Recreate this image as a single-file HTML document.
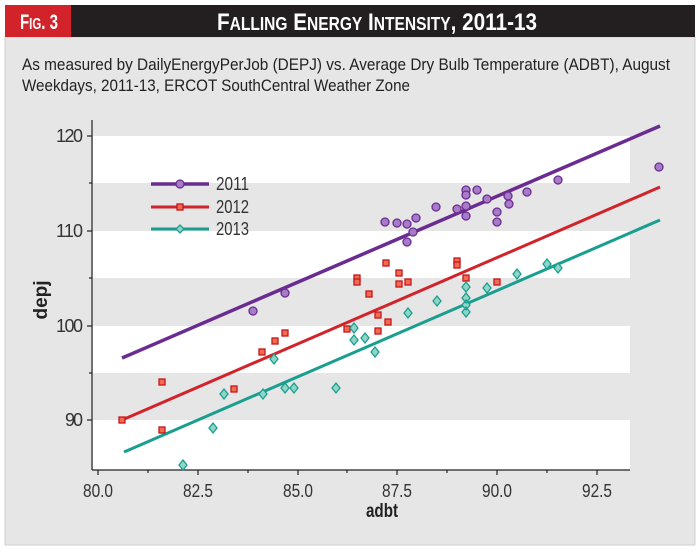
<!DOCTYPE html>
<html><head><meta charset="utf-8"><style>
body{margin:0;width:700px;height:551px;background:#fff;overflow:hidden;font-family:"Liberation Sans",sans-serif}
</style></head><body>
<svg width="700" height="551" xmlns="http://www.w3.org/2000/svg" font-family="Liberation Sans, sans-serif">
<rect x="5" y="37" width="690" height="508" fill="#e6e6e6" stroke="#cfcfcf"/>
<rect x="5" y="5" width="690" height="32" fill="#231f20"/>
<rect x="5" y="5" width="66" height="32" fill="#d2232a"/>
<text x="20" y="29" fill="#fff" font-size="21" font-weight="bold" textLength="38" lengthAdjust="spacingAndGlyphs">F<tspan font-size="16">IG</tspan>. 3</text>
<text x="217" y="30" fill="#fff" font-size="24" font-weight="bold" textLength="320" lengthAdjust="spacingAndGlyphs">F<tspan font-size="18">ALLING</tspan> E<tspan font-size="18">NERGY</tspan> I<tspan font-size="18">NTENSITY</tspan>, 2011-13</text>
<text x="22" y="70" font-size="17" fill="#222" textLength="648" lengthAdjust="spacingAndGlyphs">As measured by DailyEnergyPerJob (DEPJ) vs. Average Dry Bulb Temperature (ADBT), August</text>
<text x="22" y="91" font-size="17" fill="#222" textLength="388" lengthAdjust="spacingAndGlyphs">Weekdays, 2011-13, ERCOT SouthCentral Weather Zone</text>
<g fill="#fff">
<rect x="93" y="136" width="537" height="47"/>
<rect x="93" y="231" width="537" height="47"/>
<rect x="93" y="326" width="537" height="47"/>
<rect x="93" y="420" width="537" height="50"/>
</g>
<g stroke="#222" stroke-width="1.2">
<line x1="92" y1="120" x2="92" y2="470"/>
<line x1="92" y1="470" x2="630" y2="470"/>
<line x1="87" y1="136" x2="92" y2="136"/><line x1="89" y1="183" x2="92" y2="183"/>
<line x1="87" y1="231" x2="92" y2="231"/><line x1="89" y1="278" x2="92" y2="278"/>
<line x1="87" y1="326" x2="92" y2="326"/><line x1="89" y1="373" x2="92" y2="373"/>
<line x1="87" y1="420" x2="92" y2="420"/>
<line x1="98" y1="470" x2="98" y2="475"/><line x1="148" y1="470" x2="148" y2="473"/>
<line x1="198" y1="470" x2="198" y2="475"/><line x1="248" y1="470" x2="248" y2="473"/>
<line x1="298" y1="470" x2="298" y2="475"/><line x1="347" y1="470" x2="347" y2="473"/>
<line x1="397" y1="470" x2="397" y2="475"/><line x1="447" y1="470" x2="447" y2="473"/>
<line x1="497" y1="470" x2="497" y2="475"/><line x1="547" y1="470" x2="547" y2="473"/>
<line x1="597" y1="470" x2="597" y2="475"/>
</g>
<g font-size="18" fill="#333" lengthAdjust="spacingAndGlyphs">
<text x="56" y="142" textLength="27">120</text><text x="56" y="237" textLength="27">110</text><text x="56" y="332" textLength="27">100</text><text x="65" y="426" textLength="18">90</text>
</g>
<g font-size="18" fill="#333">
<text x="83" y="497" textLength="30" lengthAdjust="spacingAndGlyphs">80.0</text><text x="183" y="497" textLength="30" lengthAdjust="spacingAndGlyphs">82.5</text><text x="283" y="497" textLength="30" lengthAdjust="spacingAndGlyphs">85.0</text><text x="382" y="497" textLength="30" lengthAdjust="spacingAndGlyphs">87.5</text><text x="482" y="497" textLength="30" lengthAdjust="spacingAndGlyphs">90.0</text><text x="582" y="497" textLength="30" lengthAdjust="spacingAndGlyphs">92.5</text>
</g>
<text x="366" y="517" font-size="19" font-weight="bold" fill="#222" textLength="32" lengthAdjust="spacingAndGlyphs">adbt</text>
<text transform="translate(47,300) rotate(-90)" font-size="19" font-weight="bold" text-anchor="middle" fill="#222">depj</text>
<line x1="122" y1="358" x2="660" y2="126" stroke="#6a2c91" stroke-width="3.5"/>
<line x1="122" y1="420" x2="660" y2="187" stroke="#d2232a" stroke-width="3"/>
<line x1="124" y1="452" x2="660" y2="220" stroke="#1a9e8f" stroke-width="3"/>
<g fill="#a77bc8" stroke="#6a2c91" stroke-width="1.3">
<circle cx="253" cy="311" r="4"/><circle cx="285" cy="293" r="4"/><circle cx="385" cy="222" r="4"/><circle cx="397" cy="223" r="4"/><circle cx="407" cy="224" r="4"/><circle cx="416" cy="218" r="4"/><circle cx="407" cy="242" r="4"/><circle cx="413" cy="232" r="4"/><circle cx="436" cy="207" r="4"/><circle cx="457" cy="209" r="4"/><circle cx="466" cy="190" r="4"/><circle cx="466" cy="195" r="4"/><circle cx="466" cy="206" r="4"/><circle cx="466" cy="216" r="4"/><circle cx="477" cy="190" r="4"/><circle cx="487" cy="199" r="4"/><circle cx="497" cy="212" r="4"/><circle cx="497" cy="222" r="4"/><circle cx="508" cy="196" r="4"/><circle cx="509" cy="204" r="4"/><circle cx="527" cy="192" r="4"/><circle cx="558" cy="180" r="4"/><circle cx="659" cy="167" r="4"/>
</g>
<g fill="#f26b4f" stroke="#c4161c" stroke-width="1.3">
<rect x="119" y="417" width="6" height="6"/><rect x="159" y="379" width="6" height="6"/><rect x="159" y="427" width="6" height="6"/><rect x="231" y="386" width="6" height="6"/><rect x="259" y="349" width="6" height="6"/><rect x="272" y="338" width="6" height="6"/><rect x="282" y="330" width="6" height="6"/><rect x="344" y="326" width="6" height="6"/><rect x="354" y="275" width="6" height="6"/><rect x="354" y="279" width="6" height="6"/><rect x="366" y="291" width="6" height="6"/><rect x="375" y="312" width="6" height="6"/><rect x="375" y="328" width="6" height="6"/><rect x="385" y="319" width="6" height="6"/><rect x="383" y="260" width="6" height="6"/><rect x="396" y="270" width="6" height="6"/><rect x="396" y="281" width="6" height="6"/><rect x="405" y="279" width="6" height="6"/><rect x="454" y="258" width="6" height="6"/><rect x="454" y="262" width="6" height="6"/><rect x="463" y="275" width="6" height="6"/><rect x="494" y="279" width="6" height="6"/>
</g>
<g fill="#8fd6c8" stroke="#1a9e8f" stroke-width="1.3">
<path d="M183 460l4 5-4 5-4-5z M213 423l4 5-4 5-4-5z M224 389l4 5-4 5-4-5z M263 389l4 5-4 5-4-5z M274 354l4 5-4 5-4-5z M285 383l4 5-4 5-4-5z M294 383l4 5-4 5-4-5z M336 383l4 5-4 5-4-5z M354 323l4 5-4 5-4-5z M354 335l4 5-4 5-4-5z M365 333l4 5-4 5-4-5z M375 347l4 5-4 5-4-5z M408 308l4 5-4 5-4-5z M437 296l4 5-4 5-4-5z M466 282l4 5-4 5-4-5z M466 293l4 5-4 5-4-5z M466 300l4 5-4 5-4-5z M466 307l4 5-4 5-4-5z M487 283l4 5-4 5-4-5z M517 269l4 5-4 5-4-5z M547 259l4 5-4 5-4-5z M558 263l4 5-4 5-4-5z"/>
</g>
<line x1="151" y1="184" x2="209" y2="184" stroke="#6a2c91" stroke-width="3.5"/>
<circle cx="180" cy="184" r="4" fill="#a77bc8" stroke="#6a2c91" stroke-width="1.3"/>
<line x1="151" y1="207" x2="209" y2="207" stroke="#d2232a" stroke-width="3"/>
<rect x="177" y="204" width="6" height="6" fill="#f26b4f" stroke="#c4161c" stroke-width="1.3"/>
<line x1="151" y1="229" x2="209" y2="229" stroke="#1a9e8f" stroke-width="3"/>
<path d="M180 225l4 4-4 4-4-4z" fill="#8fd6c8" stroke="#1a9e8f" stroke-width="1.3"/>
<g font-size="18" fill="#333"><text x="216" y="190" textLength="33" lengthAdjust="spacingAndGlyphs">2011</text><text x="216" y="213" textLength="33" lengthAdjust="spacingAndGlyphs">2012</text><text x="216" y="235" textLength="33" lengthAdjust="spacingAndGlyphs">2013</text></g>
</svg>
</body></html>
